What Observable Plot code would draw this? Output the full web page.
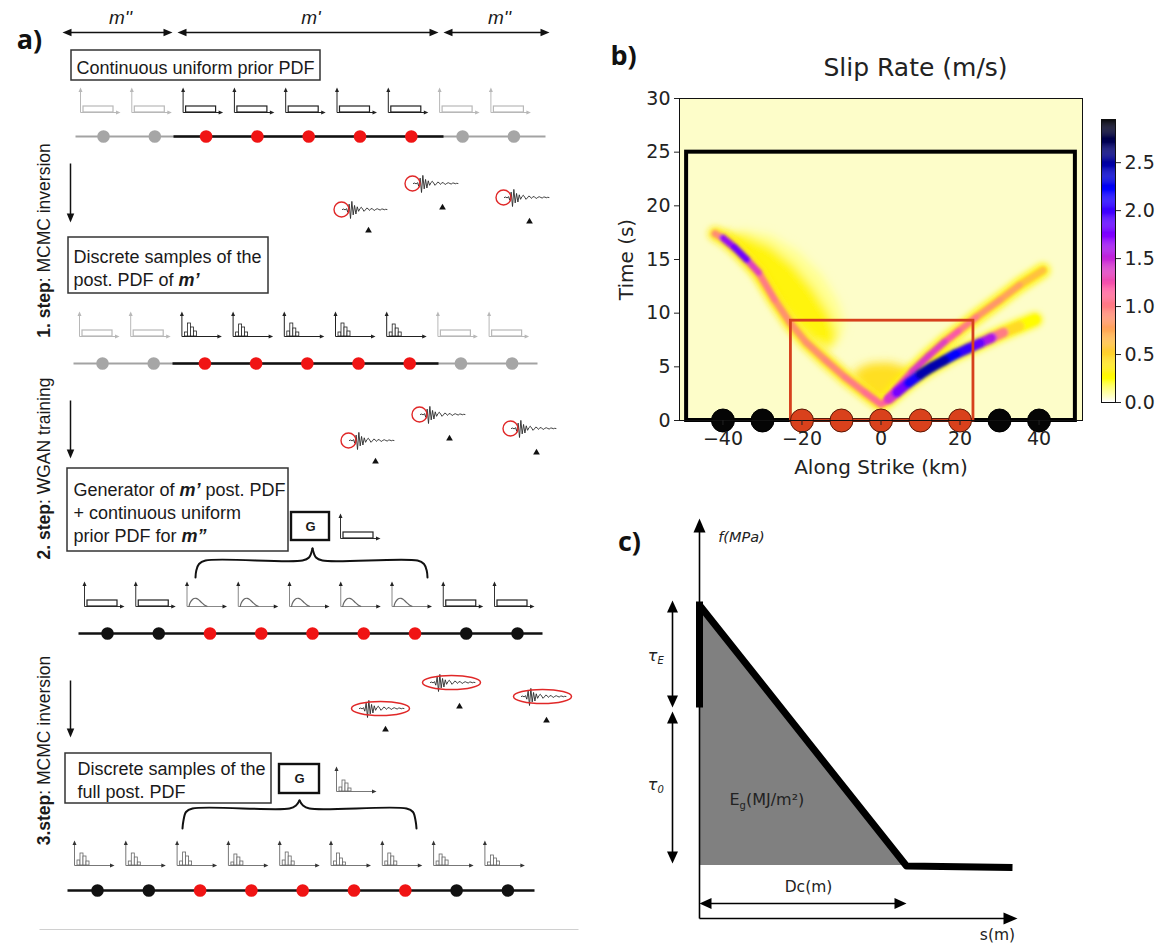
<!DOCTYPE html>
<html><head><meta charset="utf-8">
<script src="https://cdn.jsdelivr.net/npm/d3@7"></script>
<script src="https://cdn.jsdelivr.net/npm/@observablehq/plot@0.6"></script>
<style>
body{margin:0;background:#fff;width:1160px;height:945px;overflow:hidden;position:relative}
.panel{position:absolute}
.panel svg{max-width:none!important;overflow:visible}
</style></head><body>
<div id="pa" class="panel" style="left:0;top:0;width:590px;height:945px"></div>
<div id="pb" class="panel" style="left:590px;top:0;width:495px;height:490px"></div>
<div id="pcb" class="panel" style="left:1085px;top:100px;width:75px;height:320px"></div>
<div id="pc" class="panel" style="left:600px;top:500px;width:440px;height:445px"></div>
<script>
// ================= DATA =================
// panel a: nodes / categories
const nodeKm = [-40, -30, -20, -10, 0, 10, 20, 30, 40];
const nodeGroup = ["m''", "m''", "m'", "m'", "m'", "m'", "m'", "m''", "m''"];
const groupSpans = ["m''", "m'", "m''"];
const stepLabels = [["1. step", ": MCMC inversion"], ["2. step", ": WGAN training"], ["3.step", ": MCMC inversion"]];
const boxLines = [
  [[["Continuous uniform prior PDF", "n"]]],
  [[["Discrete samples of the", "n"]], [["post. PDF of ", "n"], ["m\u2019", "bi"]]],
  [[["Generator of ", "n"], ["m\u2019", "bi"], [" post. PDF", "n"]], [["+ continuous uniform", "n"]], [["prior PDF for ", "n"], ["m\u201D", "bi"]]],
  [[["Discrete samples of the", "n"]], [["full post. PDF", "n"]]]
];
const rowPdf = [
  ["uniform", "uniform", "uniform", "uniform", "uniform", "uniform", "uniform", "uniform", "uniform"],
  ["uniform", "uniform", "hist", "hist", "hist", "hist", "hist", "uniform", "uniform"],
  ["uniform", "uniform", "gen", "gen", "gen", "gen", "gen", "uniform", "uniform"],
  ["hist", "hist", "hist", "hist", "hist", "hist", "hist", "hist", "hist"]
];
const rowState = [
  ["prior", "prior", "active", "active", "active", "active", "active", "prior", "prior"],
  ["prior", "prior", "active", "active", "active", "active", "active", "prior", "prior"],
  ["fixed", "fixed", "active", "active", "active", "active", "active", "fixed", "fixed"],
  ["fixed", "fixed", "active", "active", "active", "active", "active", "fixed", "fixed"]
];
const histRowB = [[4, 13, 9, 5], [4, 12, 9, 4], [5, 13, 8, 4], [4, 13, 9, 5], [4, 12, 8, 4]];
const histRowD = [[5, 12, 9, 4], [4, 12, 8, 3], [4, 13, 9, 4], [3, 11, 8, 4], [5, 13, 9, 4], [4, 12, 7, 3], [4, 12, 9, 4], [4, 11, 8, 5], [3, 10, 7, 4]];
const histG = [4, 11, 8, 3];
const humpX = [2, 3, 5, 7, 9, 11, 14, 17, 20];
const humpY = [0, 3.5, 6.5, 8, 8.2, 7.2, 4.5, 1.8, 0.2];
const waveAmp = [0, 0.05, -0.05, 0.1, -0.3, 0.6, -1.0, 0.9, -0.6, 0.45, -0.5, 0.3, -0.2, 0.1, 0.25, 0.05, -0.2, -0.05, 0.15, 0.1, -0.1, 0.05, 0.12, -0.05, -0.1, 0.05, 0.08, 0, -0.06, 0.04, 0.05, -0.03, 0.02, 0];
const waveSpikeIndex = 6;

// panel b: slip-rate ridges (km, s, m/s)
const ridgeLeftX = [-42, -40, -37, -34, -31, -27, -23, -19, -14, -9, -4, 0];
const ridgeLeftT = [17.4, 17.0, 16.1, 15.0, 13.8, 11.3, 9.1, 7.3, 5.6, 4.0, 2.6, 1.5];
const ridgeLeftV = [0.5, 1.3, 2.0, 1.6, 1.1, 0.9, 0.85, 0.85, 0.9, 0.95, 1.05, 1.1];
const ridgeUpX = [1, 4, 8, 12, 16, 19.5, 24, 30, 35, 41];
const ridgeUpT = [1.7, 3.0, 4.6, 6.0, 7.3, 8.3, 9.6, 11.2, 12.6, 14.0];
const ridgeUpV = [1.1, 1.2, 1.35, 1.4, 1.3, 1.1, 0.9, 0.8, 0.75, 0.45];
const ridgeLowX = [2, 4, 7, 10, 13, 16, 19, 22, 25, 28, 31, 35, 39];
const ridgeLowT = [2.0, 2.6, 3.5, 4.3, 5.0, 5.6, 6.2, 6.7, 7.2, 7.7, 8.2, 8.8, 9.4];
const ridgeLowV = [1.2, 1.6, 1.95, 2.3, 2.6, 2.3, 2.1, 1.95, 1.75, 1.4, 0.6, 0.3, 0.2];
const blobPaleX = [-36, -28, -21, -15, -11, -9, -11, -15];
const blobPaleT = [17.8, 17.3, 15.8, 13.6, 11.2, 9, 7.2, 6.5];
const blobWedgeX = [-41, -35, -28, -22, -17, -13, -11, -13, -17, -22, -27, -32, -37];
const blobWedgeT = [17.6, 17.4, 16.3, 14.5, 12.3, 10.0, 8.0, 6.6, 7.4, 9.2, 11.3, 13.8, 16.0];
const blobOriginX = [-7, -3, 2, 6, 8, 5, 2, 0, -3, -6];
const blobOriginT = [4.6, 5.3, 5.4, 5.0, 4.4, 3.2, 2.2, 1.5, 2.3, 3.6];
const blobValues = {pale: 0.1, wedge: 0.3, origin: 0.42};
const outerWindow = {x1: -49.2, x2: 49.2, t1: 0, t2: 25};
const innerWindow = {x1: -22.8, x2: 23.4, t1: 0, t2: 9.3};
const xTicksB = [-40, -20, 0, 20, 40];
const yTicksB = [0, 5, 10, 15, 20, 25, 30];
const cbTicks = [0, 0.5, 1, 1.5, 2, 2.5];
const cVmax = 2.95;
// gnuplot2 colormap stops (reversed for the scale)
const g2Pos = [0, 0.125, 0.25, 0.32, 0.42, 0.5, 0.6, 0.7, 0.8, 0.9, 0.92, 0.96, 1];
const g2Col = ["#000000", "#000080", "#0000ff", "#3800ff", "#8700ff", "#c729d6", "#ff5ca3", "#ff8f70", "#ffc23d", "#fff50a", "#ffff00", "#ffff80", "#ffffff"];

// panel c: linear slip-weakening schematic
const cStrength = {s: 0, f1: 4.22, f2: 6.34};
const cCurveS = [0.02, 4.14, 6.26];
const cCurveF = [6.24, 1.05, 1.02];
const cFillS = [0, 4.1];
const cFillTop = [6.22, 1.06];
const cResidual = 1.06;
const cTauE = [4.22, 6.36];
const cTau0 = [1.1, 4.14];
const cDc = [0, 4.14];

// ================= LAYOUT =================
const L = {
  rows: [
    {y: 136, x0: 103, dx: 51.3, base: 112, outer: [75, 545], inner: [173, 443]},
    {y: 363, x0: 102, dx: 51.2, base: 336, outer: [73, 537], inner: [172, 438]},
    {y: 633, x0: 107, dx: 51.25, base: 606, outer: [78, 542], inner: null},
    {y: 890, x0: 97, dx: 51.3, base: 865, outer: [67, 534], inner: null}
  ],
  spans: [[62, 172], [177, 438], [443, 549]], spanY: 32, spanLabelY: 17,
  boxes: [
    {x1: 71, y1: 50, x2: 320, y2: 80, tx: 76, ty: [73]},
    {x1: 68, y1: 237, x2: 268, y2: 293, tx: 73, ty: [262, 285]},
    {x1: 67, y1: 468, x2: 288, y2: 551, tx: 73, ty: [495, 518, 541]},
    {x1: 65, y1: 753, x2: 271, y2: 803, tx: 77, ty: [774, 797]}
  ],
  steps: [{x: 44, y: 240}, {x: 44, y: 468}, {x: 44, y: 750}],
  downX: 70, down: [[163, 222], [400, 458], [680, 737]],
  stations: [[350, 209], [421, 183], [512, 197]],
  waveShift: [[0, 0], [7, 231], [17, 499]],
  triRel: [[18, 21], [21, 24], [17, 24]],
  gBoxes: [{x1: 291, y1: 512, x2: 329, y2: 540, icon: [340, 538], pdf: "uniform"}, {x1: 279, y1: 764, x2: 319, y2: 793, icon: [336, 791], pdf: "hist"}],
  braces: [{x0: 195, x1: 427, xc: 312, yEnd: 577, yMid: 560, yCusp: 548}, {x0: 182, x1: 416, xc: 299, yEnd: 828, yMid: 808, yCusp: 800}],
  rule: {x1: 39, x2: 578, y: 929}
};

const FA = '"Liberation Sans", Arial, sans-serif';
const FB = '"DejaVu Sans", sans-serif';
const FL = '"Open Sans", "DejaVu Sans", sans-serif';
const ctx = document.createElement("canvas").getContext("2d");
function measure(t, st, size, fam) {
  ctx.font = `${st.includes("i") ? "italic " : ""}${st.includes("b") ? "bold " : ""}${size}px ${fam}`;
  return ctx.measureText(t).width;
}
function arrowHead(Lh, W) {
  return {draw(c) { c.moveTo(0, 0); c.lineTo(W / 2, Lh); c.lineTo(-W / 2, Lh); c.closePath(); }};
}
function ellipseSym(rx, ry) {
  const k = 0.5523;
  return {draw(c) {
    c.moveTo(rx, 0);
    c.bezierCurveTo(rx, ry * k, rx * k, ry, 0, ry);
    c.bezierCurveTo(-rx * k, ry, -rx, ry * k, -rx, 0);
    c.bezierCurveTo(-rx, -ry * k, -rx * k, -ry, 0, -ry);
    c.bezierCurveTo(rx * k, -ry, rx, -ry * k, rx, 0);
    c.closePath();
  }};
}
function textMarks(items) {
  const groups = d3.group(items, d => [d.st, d.size, d.rot || 0, d.ta || "start", d.la || "bottom", d.fam || FA, d.fill || "#1a1a1a"].join("|"));
  const marks = [];
  for (const [key, arr] of groups) {
    const [st, size, rot, ta, la, fam, fill] = key.split("|");
    marks.push(Plot.text(arr, {x: "x", y: "y", text: "text", fontSize: +size, rotate: +rot, textAnchor: ta, lineAnchor: la,
      fontFamily: fam, fill, fontWeight: st.includes("b") ? "bold" : "normal", fontStyle: st.includes("i") ? "italic" : "normal"}));
  }
  return marks;
}

// ================= PANEL A =================
const aT = [], aLinks = [], headS = [], headM = [], aRects = [], aBoxes = [], aHump = [], aDots = [], aWave = [], aCirc = [], aEll = [], aTri = [], aBrace = [];
aT.push({x: 29, y: 40, text: "a)", st: "b", size: 27, ta: "middle", la: "middle", fam: FL, fill: "#111"});
L.spans.forEach((sp, i) => {
  aLinks.push({x1: sp[0] + 5, x2: sp[1] - 5, y1: L.spanY, y2: L.spanY, stroke: "#111", sw: 1.5});
  headM.push({x: sp[0], y: L.spanY, rot: -90, fill: "#111"}, {x: sp[1], y: L.spanY, rot: 90, fill: "#111"});
  aT.push({x: (sp[0] + sp[1]) / 2 + 3, y: L.spanLabelY, text: groupSpans[i], st: "i", size: 19, ta: "middle", la: "middle"});
});
L.boxes.forEach((b, i) => {
  aBoxes.push({x1: b.x1, y1: b.y1, x2: b.x2, y2: b.y2, sw: 1.5, stroke: "#333"});
  boxLines[i].forEach((line, j) => {
    let cx = b.tx;
    line.forEach(([t, st]) => { aT.push({x: cx, y: b.ty[j], text: t, st, size: 18}); cx += measure(t, st, 18, FA); });
  });
});
stepLabels.forEach(([bt, nt], i) => {
  const wb = measure(bt, "b", 17.5, FA), wn = measure(nt, "n", 17.5, FA);
  const bottom = L.steps[i].y + (wb + wn) / 2;
  aT.push({x: L.steps[i].x, y: bottom, text: bt, st: "b", size: 17.5, rot: -90, ta: "start", la: "middle"});
  aT.push({x: L.steps[i].x, y: bottom - wb, text: nt, st: "n", size: 17.5, rot: -90, ta: "start", la: "middle"});
});
L.down.forEach(([y1, y2]) => {
  aLinks.push({x1: L.downX, x2: L.downX, y1, y2: y2 - 5, stroke: "#111", sw: 1.5});
  headM.push({x: L.downX, y: y2, rot: 180, fill: "#111"});
});
function icon(ox, oy, type, cAxis, cHead, cShape, hist) {
  aLinks.push({x1: ox, y1: oy, x2: ox, y2: oy - 22, stroke: cAxis, sw: 1});
  aLinks.push({x1: ox, y1: oy, x2: ox + 37, y2: oy, stroke: cAxis, sw: 1});
  headS.push({x: ox, y: oy - 25, rot: 0, fill: cHead}, {x: ox + 40, y: oy, rot: 90, fill: cHead});
  if (type === "uniform") aRects.push({x1: ox + 3, x2: ox + 33, y1: oy - 6, y2: oy, stroke: cShape, sw: 1.2});
  else if (type === "hist") hist.forEach((h, j) => aRects.push({x1: ox + 3 + 3 * j, x2: ox + 6 + 3 * j, y1: oy - h, y2: oy, stroke: cShape, sw: 0.8}));
  else humpX.forEach((hx, j) => aHump.push({x: ox + hx, y: oy - humpY[j], id: ox + "," + oy, stroke: cShape}));
}
const nodeColor = {prior: "#a6a6a6", active: "#f01414", fixed: "#111111"};
L.rows.forEach((row, r) => {
  const faded = r < 2;
  aLinks.push({x1: row.outer[0], x2: row.outer[1], y1: row.y, y2: row.y, stroke: faded ? "#a3a3a3" : "#111", sw: faded ? 2.2 : 2.6});
  if (row.inner) aLinks.push({x1: row.inner[0], x2: row.inner[1], y1: row.y, y2: row.y, stroke: "#111", sw: 2.6});
  let hi = 0;
  nodeKm.forEach((km, i) => {
    const nx = row.x0 + i * row.dx;
    aDots.push({x: nx, y: row.y, fill: nodeColor[rowState[r][i]]});
    const type = rowPdf[r][i], ox = nx - 23, oy = row.base;
    if (r < 2) {
      const c = rowState[r][i] === "prior" ? "#b8b8b8" : "#222";
      icon(ox, oy, type, c, c, c, type === "hist" ? histRowB[hi++] : null);
    } else if (r === 2) {
      if (type === "gen") icon(ox, oy, type, "#888", "#222", "#666");
      else icon(ox, oy, type, "#333", "#222", "#222");
    } else {
      icon(ox, oy, type, "#777", "#333", "#666", histRowD[i]);
    }
  });
});
L.gBoxes.forEach(g => {
  aBoxes.push({x1: g.x1, y1: g.y1, x2: g.x2, y2: g.y2, sw: 2.4, stroke: "#111"});
  aT.push({x: (g.x1 + g.x2) / 2, y: (g.y1 + g.y2) / 2, text: "G", st: "b", size: 13, ta: "middle", la: "middle"});
  if (g.pdf === "uniform") icon(g.icon[0], g.icon[1], "uniform", "#333", "#222", "#222");
  else icon(g.icon[0], g.icon[1], "hist", "#777", "#333", "#666", histG);
});
L.braces.forEach((b, k) => {
  const {x0, x1, xc, yEnd, yMid, yCusp} = b;
  const left = [[x0, yEnd], [x0 + 0.8, yEnd - 7], [x0 + 3.5, yMid + 3.5], [x0 + 10, yMid], [xc - 10, yMid], [xc - 3.5, yMid - 3], [xc, yCusp]];
  const right = [[xc, yCusp], [xc + 3.5, yMid - 3], [xc + 10, yMid], [x1 - 10, yMid], [x1 - 3.5, yMid + 3.5], [x1 - 0.8, yEnd - 7], [x1, yEnd]];
  left.forEach(p => aBrace.push({x: p[0], y: p[1], id: k + "L"}));
  right.forEach(p => aBrace.push({x: p[0], y: p[1], id: k + "R"}));
});
L.waveShift.forEach((sh, r) => {
  L.stations.forEach((st, k) => {
    const sx = st[0] + sh[0], sy = st[1] + sh[1];
    waveAmp.forEach((a, i) => aWave.push({x: sx + (i - waveSpikeIndex) * 1.35, y: sy - a * 9, id: r + "-" + k}));
    if (r < 2) aCirc.push({x: sx - 9, y: sy}); else aEll.push({x: sx + 13, y: sy});
    aTri.push({x: sx + L.triRel[k][0], y: sy + L.triRel[k][1]});
  });
});
aLinks.push({x1: L.rule.x1, x2: L.rule.x2, y1: L.rule.y, y2: L.rule.y, stroke: "#d0d0d0", sw: 1});

const aSvg = Plot.plot({
  width: 590, height: 945, margin: 0,
  x: {domain: [0, 590], range: [0, 590], axis: null},
  y: {domain: [0, 945], range: [0, 945], axis: null},
  color: {type: "identity"},
  style: {background: "transparent", overflow: "visible"},
  marks: [
    Plot.rect(aBoxes, {x1: "x1", x2: "x2", y1: "y1", y2: "y2", fill: "white", stroke: "stroke", strokeWidth: "sw"}),
    Plot.link(aLinks, {x1: "x1", x2: "x2", y1: "y1", y2: "y2", stroke: "stroke", strokeWidth: "sw", strokeLinecap: "butt"}),
    Plot.rect(aRects, {x1: "x1", x2: "x2", y1: "y1", y2: "y2", fill: "white", stroke: "stroke", strokeWidth: "sw"}),
    Plot.line(aHump, {x: "x", y: "y", z: "id", stroke: "stroke", strokeWidth: 1.2, curve: "catmull-rom"}),
    Plot.dot(headS, {x: "x", y: "y", rotate: "rot", fill: "fill", stroke: "none", r: 1, symbol: arrowHead(4.5, 4)}),
    Plot.dot(headM, {x: "x", y: "y", rotate: "rot", fill: "fill", stroke: "none", r: 1, symbol: arrowHead(9, 7.5)}),
    Plot.line(aBrace, {x: "x", y: "y", z: "id", stroke: "#111", strokeWidth: 2, curve: "catmull-rom"}),
    Plot.dot(aDots, {x: "x", y: "y", fill: "fill", r: 6.3, stroke: "none"}),
    Plot.line(aWave, {x: "x", y: "y", z: "id", stroke: "#2a2a2a", strokeWidth: 0.9}),
    Plot.dot(aCirc, {x: "x", y: "y", r: 7.5, stroke: "#e02828", strokeWidth: 1.4, fill: "none"}),
    Plot.dot(aEll, {x: "x", y: "y", r: 1, symbol: ellipseSym(29, 7), stroke: "#e02828", strokeWidth: 1.5, fill: "none"}),
    Plot.dot(aTri, {x: "x", y: "y", r: 3.2, symbol: "triangle2", fill: "#111", stroke: "none"}),
    ...textMarks(aT)
  ]
});
document.getElementById("pa").append(aSvg);

// ================= PANEL B =================
const vStops = g2Pos.map(p => cVmax * (1 - p)).reverse();
const vColors = g2Col.slice().reverse();
const colorOpt = {type: "linear", domain: vStops, range: vColors, clamp: true};
function segs(X, T, V) { const out = []; for (let i = 0; i < X.length - 1; i++) out.push({x1: X[i], y1: T[i], x2: X[i + 1], y2: T[i + 1], v: (V[i] + V[i + 1]) / 2}); return out.sort((a, b) => a.v - b.v); }
function poly(X, T, v, id) { return X.map((x, i) => ({x, t: T[i], v, id})); }
const blobData = [
  ...poly(blobPaleX, blobPaleT, blobValues.pale, "pale"),
  ...poly(blobWedgeX, blobWedgeT, blobValues.wedge, "wedge"),
  ...poly(blobOriginX, blobOriginT, blobValues.origin, "origin")
];
const haloSegs = [
  ...segs(ridgeLeftX, ridgeLeftT, ridgeLeftX.map(() => 0.35)),
  ...segs(ridgeUpX, ridgeUpT, ridgeUpX.map(() => 0.3)),
  ...segs(ridgeLowX, ridgeLowT, ridgeLowX.map(() => 0.28))
];
const coreThin = [...segs(ridgeLeftX, ridgeLeftT, ridgeLeftV), ...segs(ridgeUpX, ridgeUpT, ridgeUpV)];
const coreThick = segs(ridgeLowX, ridgeLowT, ridgeLowV);
const nodeFillB = nodeGroup.map(g => g === "m'" ? "#d9411c" : "#050505");
const nodeStrokeB = nodeGroup.map(g => g === "m'" ? "#5a1806" : "#000");

const bSvg = Plot.plot({
  width: 495, height: 490, marginLeft: 89, marginRight: 3, marginTop: 98, marginBottom: 70,
  style: {background: "transparent", fontFamily: FB, overflow: "visible", color: "#222"},
  x: {domain: [-51, 51]},
  y: {domain: [0, 30]},
  color: colorOpt,
  marks: [
    Plot.frame({fill: "#fdfdc9"}),
    Plot.line(blobData, {x: "x", y: "t", z: "id", fill: "v", stroke: null, ariaDescription: "blurblob"}),
    Plot.link(haloSegs, {x1: "x1", y1: "y1", x2: "x2", y2: "y2", stroke: "v", strokeWidth: 14, strokeLinecap: "round", ariaDescription: "blurhalo"}),
    Plot.link(coreThin, {x1: "x1", y1: "y1", x2: "x2", y2: "y2", stroke: "v", strokeWidth: 7, strokeLinecap: "round", ariaDescription: "blurcore"}),
    Plot.link(coreThick, {x1: "x1", y1: "y1", x2: "x2", y2: "y2", stroke: "v", strokeWidth: 10, strokeLinecap: "round", ariaDescription: "blurcore2"}),
    Plot.rect([outerWindow], {x1: "x1", x2: "x2", y1: "t1", y2: "t2", fill: "none", stroke: "#000", strokeWidth: 4}),
    Plot.rect([innerWindow], {x1: "x1", x2: "x2", y1: "t1", y2: "t2", fill: "none", stroke: "#d6401d", strokeWidth: 2.8}),
    Plot.dot(nodeKm, {x: d => d, y: 0, r: 11.5, fill: (d, i) => nodeFillB[i], stroke: (d, i) => nodeStrokeB[i], strokeWidth: 1}),
    Plot.frame({stroke: "#111", strokeWidth: 1}),
    Plot.axisX({ticks: xTicksB, tickSize: 5, tickPadding: 6, fontSize: 19, label: null}),
    Plot.axisY({ticks: yTicksB, tickSize: 5, tickPadding: 4, fontSize: 19, label: null}),
    Plot.text(["Slip Rate (m/s)"], {text: d => d, frameAnchor: "top", dx: 34.5, dy: -31, lineAnchor: "middle", fontSize: 25, fill: "#222"}),
    Plot.text(["b)"], {text: d => d, frameAnchor: "top-left", dx: -56, dy: -42, lineAnchor: "middle", textAnchor: "middle", fontSize: 27, fontWeight: "bold", fontFamily: FL, fill: "#111"}),
    Plot.text(["Time (s)"], {text: d => d, frameAnchor: "left", dx: -53, rotate: -90, lineAnchor: "middle", textAnchor: "middle", fontSize: 20, fill: "#222"}),
    Plot.text(["Along Strike (km)"], {text: d => d, frameAnchor: "bottom", dy: 47, lineAnchor: "middle", textAnchor: "middle", fontSize: 20, fill: "#222"})
  ]
});
function addBlur(svgNode, id, sd) {
  const s = d3.select(svgNode);
  let defs = s.select("defs");
  if (defs.empty()) defs = s.insert("defs", ":first-child");
  defs.append("filter").attr("id", id).attr("x", "-50%").attr("y", "-50%").attr("width", "200%").attr("height", "200%")
    .append("feGaussianBlur").attr("stdDeviation", sd);
  s.selectAll(`[aria-description="${id}"]`).attr("filter", `url(#${id})`);
}
addBlur(bSvg, "blurblob", 5);
addBlur(bSvg, "blurhalo", 3);
addBlur(bSvg, "blurcore", 1.4);
addBlur(bSvg, "blurcore2", 1.8);
document.getElementById("pb").append(bSvg);

// colorbar
const cbStep = 0.01;
const cbRamp = d3.range(0, cVmax, cbStep);
const cbSvg = Plot.plot({
  width: 75, height: 320, marginLeft: 16, marginRight: 45, marginTop: 19, marginBottom: 18,
  style: {background: "transparent", fontFamily: FB, overflow: "visible", color: "#222"},
  x: {domain: [0, 1], axis: null},
  y: {domain: [0, cVmax]},
  color: colorOpt,
  marks: [
    Plot.rect(cbRamp, {x1: 0, x2: 1, y1: d => d, y2: d => Math.min(cVmax, d + cbStep * 1.2), fill: d => d}),
    Plot.frame({stroke: "#111", strokeWidth: 1}),
    Plot.axisY({anchor: "right", ticks: cbTicks, tickFormat: d3.format(".1f"), tickSize: 5, tickPadding: 4, fontSize: 19, label: null})
  ]
});
document.getElementById("pcb").append(cbSvg);

// ================= PANEL C =================
const cT = [];
const sPx = 50; // px per unit in this schematic
cT.push({x: -1.4, y: 7.52, text: "c)", st: "b", size: 27, ta: "middle", la: "middle", fam: FL, fill: "#111"});
cT.push({x: 0.84, y: 7.62, text: "f(MPa)", st: "i", size: 14.5, ta: "middle", la: "middle", fam: FB, fill: "#222"});
cT.push({x: 5.96, y: -0.34, text: "s(m)", st: "n", size: 15.5, ta: "middle", la: "middle", fam: FB, fill: "#222"});
cT.push({x: 2.18, y: 0.62, text: "Dc(m)", st: "n", size: 15.5, ta: "middle", la: "middle", fam: FB, fill: "#222"});
cT.push({x: -0.94, y: 5.26, text: "\u03C4", st: "i", size: 16, ta: "middle", la: "middle", fam: FB, fill: "#222"});
cT.push({x: -0.84, y: 5.16, text: "E", st: "i", size: 10, ta: "start", la: "middle", fam: FB, fill: "#222"});
cT.push({x: -0.94, y: 2.68, text: "\u03C4", st: "i", size: 16, ta: "middle", la: "middle", fam: FB, fill: "#222"});
cT.push({x: -0.84, y: 2.58, text: "0", st: "i", size: 10, ta: "start", la: "middle", fam: FB, fill: "#222"});
{
  const x0 = 0.6, yb = 2.28;
  const wE = measure("E", "n", 16, FB) / sPx, wg = measure("g", "n", 10, FB) / sPx;
  cT.push({x: x0, y: yb, text: "E", st: "n", size: 16, ta: "start", la: "bottom", fam: FB, fill: "#222"});
  cT.push({x: x0 + wE, y: yb - 0.09, text: "g", st: "n", size: 10, ta: "start", la: "bottom", fam: FB, fill: "#222"});
  cT.push({x: x0 + wE + wg, y: yb, text: "(MJ/m\u00B2)", st: "n", size: 16, ta: "start", la: "bottom", fam: FB, fill: "#222"});
}
const cLinks = [
  {x1: 0, y1: 0, x2: 0, y2: 7.8},
  {x1: 0, y1: 0, x2: 6.16, y2: 0},
  {x1: -0.54, y1: cTauE[0] + 0.18, x2: -0.54, y2: cTauE[1] - 0.18},
  {x1: -0.54, y1: cTau0[0] + 0.18, x2: -0.54, y2: cTau0[1] - 0.18},
  {x1: cDc[0] + 0.18, y1: 0.3, x2: cDc[1] - 0.18, y2: 0.3}
];
const cHeadsBig = [{x: 0, y: 8.0, rot: 0}, {x: 6.36, y: 0, rot: 90}];
const cHeadsDim = [
  {x: -0.54, y: cTauE[1], rot: 0}, {x: -0.54, y: cTauE[0], rot: 180},
  {x: -0.54, y: cTau0[1], rot: 0}, {x: -0.54, y: cTau0[0], rot: 180},
  {x: cDc[0], y: 0.3, rot: -90}, {x: cDc[1], y: 0.3, rot: 90}
];
const cFill = cFillS.map((s, i) => ({s, f1: cResidual, f2: cFillTop[i]}));
const cCurve = cCurveS.map((s, i) => ({s, f: cCurveF[i]}));
const cSvg = Plot.plot({
  width: 440, height: 445, marginLeft: 99, marginRight: 21, marginTop: 18, marginBottom: 27,
  x: {domain: [0, 6.4], axis: null},
  y: {domain: [0, 8], axis: null},
  style: {background: "transparent", overflow: "visible", fontFamily: FB},
  marks: [
    Plot.areaY(cFill, {x: "s", y1: "f1", y2: "f2", fill: "#808080"}),
    Plot.link(cLinks, {x1: "x1", y1: "y1", x2: "x2", y2: "y2", stroke: "#000", strokeWidth: 1.6}),
    Plot.link([cStrength], {x1: "s", x2: "s", y1: "f1", y2: "f2", stroke: "#000", strokeWidth: 7, strokeLinecap: "butt"}),
    Plot.line(cCurve, {x: "s", y: "f", stroke: "#000", strokeWidth: 7, strokeLinejoin: "round", strokeLinecap: "butt"}),
    Plot.dot(cHeadsBig, {x: "x", y: "y", rotate: "rot", fill: "#000", stroke: "none", r: 1, symbol: arrowHead(14, 12)}),
    Plot.dot(cHeadsDim, {x: "x", y: "y", rotate: "rot", fill: "#000", stroke: "none", r: 1, symbol: arrowHead(12, 11)}),
    ...textMarks(cT)
  ]
});
document.getElementById("pc").append(cSvg);
</script>
</body></html>
